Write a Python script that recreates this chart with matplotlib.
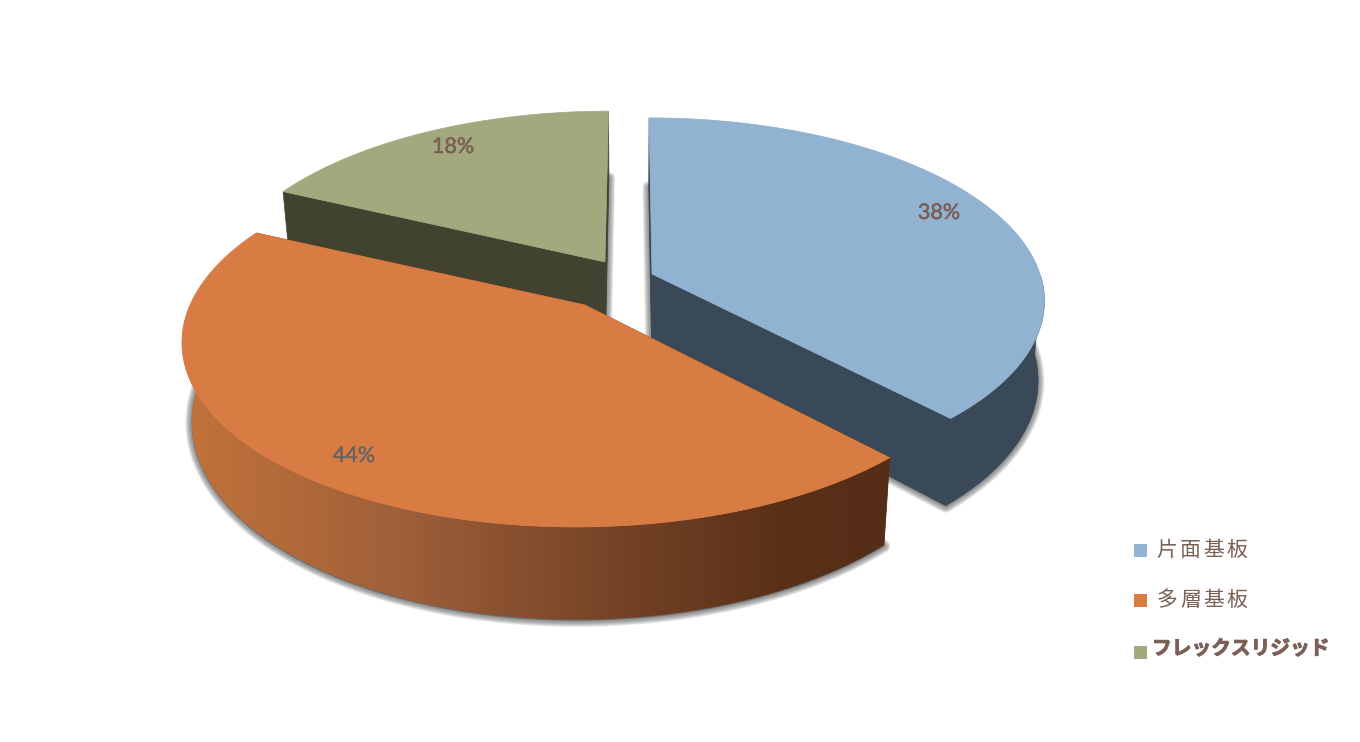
import numpy as np
import matplotlib
matplotlib.use("Agg")
import matplotlib.pyplot as plt
import matplotlib.patheffects as pe
from matplotlib.colors import LinearSegmentedColormap
from matplotlib.patches import Polygon, Rectangle

labels = ["片面基板", "多層基板", "フレックスリジッド"]
values = [38, 44, 18]

top_colors = ["#91B2D0", "#D97C43", "#A3A97F"]
wall_colors = ["#394958", "#5A3018", "#414330"]
text_color = "#7A6055"

# layout of the exploded slices, in pixels
apex_x = [652, 585, 605]
apex_y = [274, 305, 262]
radius_x = [388, 395, 385]
radius_y = [178, 182, 178]
depth = [78, 76, 78]
persp = [0.14, 0.18, 0.18]
shrink = [0.015, 0.022, 0.02]
vanish_x = 628

plt.rcParams["font.family"] = ["Noto Sans CJK JP", "DejaVu Sans"]

fig = plt.figure(figsize=(13.6, 7.42), dpi=100)
ax = fig.add_axes([0, 0, 1, 1])
ax.set_xlim(0, 1360)
ax.set_ylim(742, 0)
ax.axis("off")


def project(i, ang, r=1.0, z=0.0):
    # ang is clockwise from the back of the pie
    u = r * np.sin(ang)
    v = -r * np.cos(ang)
    s = 1 / (1 - persp[i] * v)
    x = vanish_x + (apex_x[i] - vanish_x + radius_x[i] * u) * s * (1 - shrink[i] * z)
    y = apex_y[i] + radius_y[i] * v * s + depth[i] * z * s
    return np.column_stack([x, y])


def draw_shadow(i, a0, a1):
    ang = np.linspace(a0, a1, 150)
    pts = np.vstack([project(i, ang, 1, 1), project(i, np.array([a0]), 0, 1)])
    pts = pts + np.array([0, 1])
    for lw in (9, 7.5, 6, 4.5, 3, 1.5):
        ax.add_patch(Polygon(pts, closed=True, fc="#555555", ec="#555555", lw=lw,
                             alpha=0.15, joinstyle="round"))


def draw_slice(i, a0, a1):
    ang = np.linspace(a0, a1, 150)
    # radial walls
    for a in (a0, a1):
        aa = np.array([a])
        wall = np.vstack([project(i, aa, 0, 0), project(i, aa, 1, 0),
                          project(i, aa, 1, 1), project(i, aa, 0, 1)])
        ax.add_patch(Polygon(wall, closed=True, fc=wall_colors[i], ec=wall_colors[i], lw=0.5))
    # outer wall, only the part that faces the viewer
    front = ang[-np.cos(ang) > 0.0]
    if len(front) > 1:
        outer = np.vstack([project(i, front, 1, 0), project(i, front[::-1], 1, 1)])
        if i == 1:
            cmap = LinearSegmentedColormap.from_list(
                "wall", [(0, "#C27339"), (0.3, "#A0603A"), (0.6, "#774427"), (0.85, "#5A3018"), (1, "#552E17")])
            patch = Polygon(outer, closed=True, fc="none", ec="none")
            ax.add_patch(patch)
            im = ax.imshow(np.linspace(0, 1, 256)[None, :], cmap=cmap, aspect="auto",
                           extent=(outer[:, 0].min(), outer[:, 0].max(), outer[:, 1].max(), outer[:, 1].min()),
                           zorder=patch.get_zorder())
            im.set_clip_path(patch)
        else:
            ax.add_patch(Polygon(outer, closed=True, fc=wall_colors[i], ec=wall_colors[i], lw=0.5))
    # top face
    top = np.vstack([project(i, np.array([a0]), 0, 0), project(i, ang, 1, 0)])
    ax.add_patch(Polygon(top, closed=True, fc=top_colors[i], ec=top_colors[i], lw=0.5))


edges = np.concatenate([[0], np.cumsum(values)]) / np.sum(values) * 2 * np.pi

# back slices first, orange sits in front of the others
for i in (2, 0, 1):
    draw_shadow(i, edges[i], edges[i + 1])
    draw_slice(i, edges[i], edges[i + 1])
ax.set_xlim(0, 1360)
ax.set_ylim(742, 0)

label_x = [939, 354, 453]
label_y = [213, 456, 147]
label_cols = ["#7A6055", "#6E6560", "#7A6055"]
for i in range(3):
    t = ax.text(label_x[i], label_y[i], f"{values[i]}%", family="Lato", fontsize=15.5,
                color=label_cols[i], ha="center", va="center", zorder=10)
    t.set_path_effects([pe.withStroke(linewidth=0.4, foreground=label_cols[i])])

# legend, drawn by hand because of the spaced out characters
legend_y = [550, 600, 652]
for i in range(3):
    ax.add_patch(Rectangle((1134, legend_y[i] - 6.5), 13, 13, fc=top_colors[i], ec="none"))
for i in range(2):
    for j, ch in enumerate(labels[i]):
        ax.text(1167 + j * 23.3, legend_y[i], ch, fontsize=15, color=text_color,
                ha="center", va="center")
t = ax.text(1152, legend_y[2] - 3, labels[2], fontsize=14.2, fontweight="bold", color=text_color,
            ha="left", va="center")
t.set_path_effects([pe.withStroke(linewidth=0.7, foreground=text_color)])

fig.savefig("out.png", dpi=100)
